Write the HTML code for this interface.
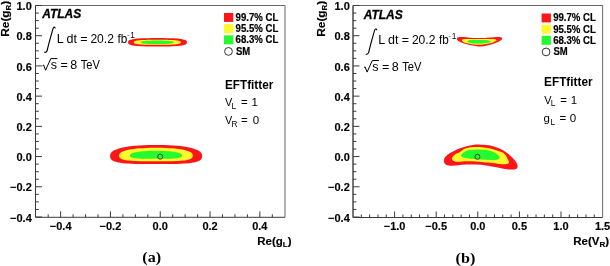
<!DOCTYPE html><html><head><meta charset="utf-8"><style>html,body{margin:0;padding:0;background:#fff;}svg{display:block;filter:blur(0.35px);}text{font-family:"Liberation Sans",sans-serif;}</style></head><body>
<svg width="610" height="266" viewBox="0 0 610 266">
<rect width="610" height="266" fill="#fff"/>
<path d="M35.5,217.3 V5.5 H285 V217.3" stroke="#666" stroke-width="1" fill="none"/>
<g stroke="#3a3a3a" stroke-width="1" fill="none">
<path d="M35.5,5.5 V217.3 H285"/>
<path d="M35.5,5.50h6.5M35.5,13.05h3.3M35.5,20.61h3.3M35.5,28.16h3.3M35.5,35.71h6.5M35.5,43.27h3.3M35.5,50.82h3.3M35.5,58.37h3.3M35.5,65.93h6.5M35.5,73.48h3.3M35.5,81.03h3.3M35.5,88.59h3.3M35.5,96.14h6.5M35.5,103.70h3.3M35.5,111.25h3.3M35.5,118.80h3.3M35.5,126.36h6.5M35.5,133.91h3.3M35.5,141.46h3.3M35.5,149.02h3.3M35.5,156.57h6.5M35.5,164.12h3.3M35.5,171.68h3.3M35.5,179.23h3.3M35.5,186.78h6.5M35.5,194.34h3.3M35.5,201.89h3.3M35.5,209.44h3.3M35.5,217.00h6.5M60.65,217.3v-6M110.45,217.3v-6M160.25,217.3v-6M210.05,217.3v-6M259.85,217.3v-6M48.20,217.3v-3M73.10,217.3v-3M85.55,217.3v-3M98.00,217.3v-3M122.90,217.3v-3M135.35,217.3v-3M147.80,217.3v-3M172.70,217.3v-3M185.15,217.3v-3M197.60,217.3v-3M222.50,217.3v-3M234.95,217.3v-3M247.40,217.3v-3M272.30,217.3v-3"/>
</g>
<g font-weight="bold" font-size="11" text-anchor="end" fill="#000" stroke="#000" stroke-width="0.15">
<text x="31.8" y="10.10">1.0</text>
<text x="31.8" y="40.31">0.8</text>
<text x="31.8" y="70.53">0.6</text>
<text x="31.8" y="100.74">0.4</text>
<text x="31.8" y="130.96">0.2</text>
<text x="31.8" y="161.17">0.0</text>
<text x="31.8" y="191.38">−0.2</text>
<text x="31.8" y="221.60">−0.4</text>
</g>
<g font-weight="bold" font-size="11" text-anchor="middle" fill="#000" stroke="#000" stroke-width="0.15">
<text x="60.65" y="229.8">−0.4</text>
<text x="110.45" y="229.8">−0.2</text>
<text x="160.25" y="229.8">0.0</text>
<text x="210.05" y="229.8">0.2</text>
<text x="259.85" y="229.8">0.4</text>
</g>
<path d="M186.90,42.30 L186.83,43.13 L186.60,43.61 L186.23,44.01 L185.71,44.35 L185.03,44.67 L184.21,44.95 L183.24,45.20 L182.11,45.43 L180.83,45.63 L179.40,45.82 L177.80,45.98 L176.02,46.12 L174.06,46.23 L171.88,46.33 L169.44,46.40 L166.65,46.46 L163.28,46.49 L157.50,46.50 L151.72,46.49 L148.35,46.46 L145.56,46.40 L143.12,46.33 L140.94,46.23 L138.98,46.12 L137.20,45.98 L135.60,45.82 L134.17,45.63 L132.89,45.43 L131.76,45.20 L130.79,44.95 L129.97,44.67 L129.29,44.35 L128.77,44.01 L128.40,43.61 L128.17,43.13 L128.10,42.30 L128.17,41.47 L128.40,40.99 L128.77,40.59 L129.29,40.25 L129.97,39.93 L130.79,39.65 L131.76,39.40 L132.89,39.17 L134.17,38.97 L135.60,38.78 L137.20,38.62 L138.98,38.48 L140.94,38.37 L143.12,38.27 L145.56,38.20 L148.35,38.14 L151.72,38.11 L157.50,38.10 L163.28,38.11 L166.65,38.14 L169.44,38.20 L171.88,38.27 L174.06,38.37 L176.02,38.48 L177.80,38.62 L179.40,38.78 L180.83,38.97 L182.11,39.17 L183.24,39.40 L184.21,39.65 L185.03,39.93 L185.71,40.25 L186.23,40.59 L186.60,40.99 L186.83,41.47Z" fill="#fe1519"/>
<path d="M180.85,42.30 L180.79,42.79 L180.61,43.08 L180.31,43.32 L179.90,43.52 L179.36,43.71 L178.70,43.87 L177.92,44.03 L177.02,44.16 L176.00,44.28 L174.85,44.39 L173.57,44.49 L172.15,44.57 L170.58,44.64 L168.84,44.70 L166.89,44.74 L164.66,44.77 L161.97,44.79 L157.35,44.80 L152.73,44.79 L150.04,44.77 L147.81,44.74 L145.86,44.70 L144.12,44.64 L142.55,44.57 L141.13,44.49 L139.85,44.39 L138.70,44.28 L137.68,44.16 L136.78,44.03 L136.00,43.87 L135.34,43.71 L134.80,43.52 L134.39,43.32 L134.09,43.08 L133.91,42.79 L133.85,42.30 L133.91,41.81 L134.09,41.52 L134.39,41.28 L134.80,41.08 L135.34,40.89 L136.00,40.73 L136.78,40.57 L137.68,40.44 L138.70,40.32 L139.85,40.21 L141.13,40.11 L142.55,40.03 L144.12,39.96 L145.86,39.90 L147.81,39.86 L150.04,39.83 L152.73,39.81 L157.35,39.80 L161.97,39.81 L164.66,39.83 L166.89,39.86 L168.84,39.90 L170.58,39.96 L172.15,40.03 L173.57,40.11 L174.85,40.21 L176.00,40.32 L177.02,40.44 L177.92,40.57 L178.70,40.73 L179.36,40.89 L179.90,41.08 L180.31,41.28 L180.61,41.52 L180.79,41.81Z" fill="#fff82a"/>
<path d="M173.50,42.30 L173.46,42.63 L173.33,42.83 L173.13,42.99 L172.84,43.13 L172.47,43.26 L172.01,43.37 L171.47,43.47 L170.85,43.57 L170.14,43.65 L169.34,43.72 L168.45,43.79 L167.47,43.84 L166.38,43.89 L165.17,43.93 L163.82,43.96 L162.27,43.98 L160.40,44.00 L157.20,44.00 L154.00,44.00 L152.13,43.98 L150.58,43.96 L149.23,43.93 L148.02,43.89 L146.93,43.84 L145.95,43.79 L145.06,43.72 L144.26,43.65 L143.55,43.57 L142.93,43.47 L142.39,43.37 L141.93,43.26 L141.56,43.13 L141.27,42.99 L141.07,42.83 L140.94,42.63 L140.90,42.30 L140.94,41.97 L141.07,41.77 L141.27,41.61 L141.56,41.47 L141.93,41.34 L142.39,41.23 L142.93,41.13 L143.55,41.03 L144.26,40.95 L145.06,40.88 L145.95,40.81 L146.93,40.76 L148.02,40.71 L149.23,40.67 L150.58,40.64 L152.13,40.62 L154.00,40.60 L157.20,40.60 L160.40,40.60 L162.27,40.62 L163.82,40.64 L165.17,40.67 L166.38,40.71 L167.47,40.76 L168.45,40.81 L169.34,40.88 L170.14,40.95 L170.85,41.03 L171.47,41.13 L172.01,41.23 L172.47,41.34 L172.84,41.47 L173.13,41.61 L173.33,41.77 L173.46,41.97Z" fill="#24fa2e"/>
<path d="M202.10,156.10 L201.97,157.65 L201.58,158.66 L200.93,159.51 L200.03,160.25 L198.87,160.90 L197.45,161.48 L195.78,161.98 L193.86,162.43 L191.68,162.81 L189.26,163.13 L186.57,163.40 L183.63,163.61 L180.40,163.78 L176.88,163.90 L173.00,163.98 L168.68,164.01 L163.65,164.02 L156.10,164.00 L148.55,164.02 L143.52,164.01 L139.20,163.98 L135.32,163.90 L131.80,163.78 L128.57,163.61 L125.63,163.40 L122.94,163.13 L120.52,162.81 L118.34,162.43 L116.42,161.98 L114.75,161.48 L113.33,160.90 L112.17,160.25 L111.27,159.51 L110.62,158.66 L110.23,157.65 L110.10,156.10 L110.23,154.53 L110.62,153.47 L111.27,152.53 L112.17,151.67 L113.33,150.86 L114.75,150.11 L116.42,149.40 L118.34,148.73 L120.52,148.11 L122.94,147.53 L125.63,147.01 L128.57,146.53 L131.80,146.11 L135.32,145.75 L139.20,145.46 L143.52,145.23 L148.55,145.07 L156.10,145.00 L163.65,145.07 L168.68,145.23 L173.00,145.46 L176.88,145.75 L180.40,146.11 L183.63,146.53 L186.57,147.01 L189.26,147.53 L191.68,148.11 L193.86,148.73 L195.78,149.40 L197.45,150.11 L198.87,150.86 L200.03,151.67 L200.93,152.53 L201.58,153.47 L201.97,154.53Z" fill="#fe1519"/>
<path d="M192.80,155.70 L192.70,156.79 L192.38,157.50 L191.87,158.10 L191.14,158.62 L190.21,159.08 L189.08,159.48 L187.74,159.83 L186.20,160.14 L184.46,160.40 L182.51,160.62 L180.36,160.81 L178.00,160.95 L175.42,161.06 L172.60,161.14 L169.49,161.19 L166.02,161.21 L162.00,161.21 L155.95,161.20 L149.90,161.21 L145.88,161.21 L142.41,161.19 L139.30,161.14 L136.48,161.06 L133.90,160.95 L131.54,160.81 L129.39,160.62 L127.44,160.40 L125.70,160.14 L124.16,159.83 L122.82,159.48 L121.69,159.08 L120.76,158.62 L120.03,158.10 L119.52,157.50 L119.20,156.79 L119.10,155.70 L119.20,154.59 L119.52,153.84 L120.03,153.18 L120.76,152.57 L121.69,152.00 L122.82,151.46 L124.16,150.95 L125.70,150.48 L127.44,150.04 L129.39,149.62 L131.54,149.25 L133.90,148.91 L136.48,148.61 L139.30,148.35 L142.41,148.13 L145.88,147.97 L149.90,147.85 L155.95,147.80 L162.00,147.85 L166.02,147.97 L169.49,148.13 L172.60,148.35 L175.42,148.61 L178.00,148.91 L180.36,149.25 L182.51,149.62 L184.46,150.04 L186.20,150.48 L187.74,150.95 L189.08,151.46 L190.21,152.00 L191.14,152.57 L191.87,153.18 L192.38,153.84 L192.70,154.59Z" fill="#fff82a"/>
<path d="M182.00,155.60 L181.93,156.25 L181.71,156.68 L181.34,157.03 L180.83,157.34 L180.17,157.60 L179.37,157.84 L178.43,158.05 L177.34,158.22 L176.11,158.37 L174.74,158.50 L173.22,158.60 L171.56,158.68 L169.74,158.74 L167.74,158.78 L165.55,158.81 L163.11,158.81 L160.27,158.81 L156.00,158.80 L151.73,158.81 L148.89,158.81 L146.45,158.81 L144.26,158.78 L142.26,158.74 L140.44,158.68 L138.78,158.60 L137.26,158.50 L135.89,158.37 L134.66,158.22 L133.57,158.05 L132.63,157.84 L131.83,157.60 L131.17,157.34 L130.66,157.03 L130.29,156.68 L130.07,156.25 L130.00,155.60 L130.07,154.94 L130.29,154.49 L130.66,154.09 L131.17,153.72 L131.83,153.38 L132.63,153.05 L133.57,152.75 L134.66,152.46 L135.89,152.18 L137.26,151.93 L138.78,151.70 L140.44,151.49 L142.26,151.30 L144.26,151.14 L146.45,151.01 L148.89,150.90 L151.73,150.83 L156.00,150.80 L160.27,150.83 L163.11,150.90 L165.55,151.01 L167.74,151.14 L169.74,151.30 L171.56,151.49 L173.22,151.70 L174.74,151.93 L176.11,152.18 L177.34,152.46 L178.43,152.75 L179.37,153.05 L180.17,153.38 L180.83,153.72 L181.34,154.09 L181.71,154.49 L181.93,154.94Z" fill="#24fa2e"/>
<circle cx="160.2" cy="156.7" r="2.5" fill="none" stroke="#333" stroke-width="0.9"/>
<text x="56.87" y="43.00" font-size="12.5" fill="#000">L</text>
<text x="66.48" y="43.00" font-size="12.5" fill="#000">dt</text>
<text x="80.29" y="43.00" font-size="12.5" fill="#000">=</text>
<text transform="translate(90.39,43.00) scale(0.967,1)" font-size="12.5" fill="#000">20.2</text>
<text transform="translate(117.53,43.00) scale(0.94,1)" font-size="12.5" fill="#000">fb</text>
<text transform="translate(127.32,37.50) scale(0.45,1)" font-size="8.3" fill="#555">−</text>
<text x="130.17" y="37.50" font-size="8.3" fill="#000">1</text>
<path d="M55.2,28.4 C55.3,27.2 54.3,26.6 53.5,27.6 C52.8,28.6 48.2,46.0 47.3,50.0 C46.9,51.7 45.6,52.8 44.3,52.1" fill="none" stroke="#000" stroke-width="1.15"/>
<path d="M42.6,65.6 L43.6,65.0 L45.6,70.2 L50.8,58.6 L57.4,58.6" fill="none" stroke="#000" stroke-width="1"/>
<text x="50.85" y="69.20" font-size="12.5" fill="#000">s</text>
<text x="60.39" y="69.20" font-size="12.5" fill="#000">=</text>
<text x="70.36" y="69.20" font-size="12.5" fill="#000">8</text>
<text transform="translate(80.75,69.20) scale(0.89,1)" font-size="12.5" fill="#000">TeV</text>
<text x="42.15" y="17.50" font-size="12" font-weight="bold" font-style="italic" fill="#000" stroke="#000" stroke-width="0.3">ATLAS</text>
<text transform="translate(224.91,88.80) scale(0.966,1)" font-size="12.2" font-weight="bold" fill="#000">EFTfitter</text>
<text transform="translate(224.95,106.20) scale(0.95,1)" font-size="11.5" fill="#000">V</text>
<text x="231.62" y="108.50" font-size="8.3" fill="#000">L</text>
<text x="241.04" y="106.20" font-size="11.5" fill="#000">=</text>
<text x="251.62" y="106.20" font-size="11.5" fill="#000">1</text>
<text transform="translate(224.95,124.40) scale(0.95,1)" font-size="11.5" fill="#000">V</text>
<text x="231.52" y="126.60" font-size="8.3" fill="#000">R</text>
<text x="241.04" y="124.40" font-size="11.5" fill="#000">=</text>
<text x="252.65" y="124.40" font-size="11.5" fill="#000">0</text>
<rect x="224" y="13.00" width="9.3" height="8.9" fill="#fe1519"/>
<text transform="translate(235.57,20.70) scale(0.962,1)" font-size="10" font-weight="bold" fill="#000" stroke="#000" stroke-width="0.2">99.7% CL</text>
<rect x="224" y="24.20" width="9.3" height="8.9" fill="#fff82a"/>
<text transform="translate(235.57,32.00) scale(0.962,1)" font-size="10" font-weight="bold" fill="#000" stroke="#000" stroke-width="0.2">95.5% CL</text>
<rect x="224" y="35.40" width="9.3" height="8.9" fill="#24fa2e"/>
<text transform="translate(235.55,43.30) scale(0.962,1)" font-size="10" font-weight="bold" fill="#000" stroke="#000" stroke-width="0.2">68.3% CL</text>
<circle cx="228.5" cy="51.4" r="3.9" fill="none" stroke="#333" stroke-width="1"/>
<text transform="translate(235.93,54.60) scale(0.95,1)" font-size="10" font-weight="bold" fill="#000" stroke="#000" stroke-width="0.2">SM</text>
<path d="M353,217.5 V5.5 H602.6 V217.5" stroke="#666" stroke-width="1" fill="none"/>
<g stroke="#3a3a3a" stroke-width="1" fill="none">
<path d="M353,5.5 V217.5 H602.6"/>
<path d="M353,5.50h6.5M353,13.05h3.3M353,20.61h3.3M353,28.16h3.3M353,35.71h6.5M353,43.27h3.3M353,50.82h3.3M353,58.37h3.3M353,65.93h6.5M353,73.48h3.3M353,81.03h3.3M353,88.59h3.3M353,96.14h6.5M353,103.70h3.3M353,111.25h3.3M353,118.80h3.3M353,126.36h6.5M353,133.91h3.3M353,141.46h3.3M353,149.02h3.3M353,156.57h6.5M353,164.12h3.3M353,171.68h3.3M353,179.23h3.3M353,186.78h6.5M353,194.34h3.3M353,201.89h3.3M353,209.44h3.3M353,217.00h6.5M394.60,217.5v-6M436.20,217.5v-6M477.80,217.5v-6M519.40,217.5v-6M561.00,217.5v-6M361.32,217.5v-3M369.64,217.5v-3M377.96,217.5v-3M386.28,217.5v-3M402.92,217.5v-3M411.24,217.5v-3M419.56,217.5v-3M427.88,217.5v-3M444.52,217.5v-3M452.84,217.5v-3M461.16,217.5v-3M469.48,217.5v-3M486.12,217.5v-3M494.44,217.5v-3M502.76,217.5v-3M511.08,217.5v-3M527.72,217.5v-3M536.04,217.5v-3M544.36,217.5v-3M552.68,217.5v-3M569.32,217.5v-3M577.64,217.5v-3M585.96,217.5v-3M594.28,217.5v-3"/>
</g>
<g font-weight="bold" font-size="11" text-anchor="end" fill="#000" stroke="#000" stroke-width="0.15">
<text x="349.8" y="10.10">1.0</text>
<text x="349.8" y="40.31">0.8</text>
<text x="349.8" y="70.53">0.6</text>
<text x="349.8" y="100.74">0.4</text>
<text x="349.8" y="130.96">0.2</text>
<text x="349.8" y="161.17">0.0</text>
<text x="349.8" y="191.38">−0.2</text>
<text x="349.8" y="221.60">−0.4</text>
</g>
<g font-weight="bold" font-size="11" text-anchor="middle" fill="#000" stroke="#000" stroke-width="0.15">
<text x="394.60" y="229.8">−1.0</text>
<text x="436.20" y="229.8">−0.5</text>
<text x="477.80" y="229.8">0.0</text>
<text x="519.40" y="229.8">0.5</text>
<text x="561.00" y="229.8">1.0</text>
<text x="602.60" y="229.8">1.5</text>
</g>
<path d="M457.00,39.00 C457.00,38.42 457.17,37.63 458.00,37.30 C458.83,36.97 460.67,37.00 462.00,37.00 C463.33,37.00 464.67,37.18 466.00,37.30 C467.33,37.42 468.67,37.60 470.00,37.70 C471.33,37.80 472.33,37.87 474.00,37.90 C475.67,37.93 478.00,37.90 480.00,37.90 C482.00,37.90 484.33,37.95 486.00,37.90 C487.67,37.85 488.67,37.72 490.00,37.60 C491.33,37.48 492.67,37.32 494.00,37.20 C495.33,37.08 496.83,36.90 498.00,36.90 C499.17,36.90 500.32,36.93 501.00,37.20 C501.68,37.47 502.10,37.98 502.10,38.50 C502.10,39.02 501.68,39.73 501.00,40.30 C500.32,40.87 499.17,41.37 498.00,41.90 C496.83,42.43 495.33,43.02 494.00,43.50 C492.67,43.98 491.33,44.42 490.00,44.80 C488.67,45.18 487.67,45.52 486.00,45.80 C484.33,46.08 482.00,46.50 480.00,46.50 C478.00,46.50 475.67,46.05 474.00,45.80 C472.33,45.55 471.33,45.30 470.00,45.00 C468.67,44.70 467.33,44.38 466.00,44.00 C464.67,43.62 463.33,43.23 462.00,42.70 C460.67,42.17 458.83,41.42 458.00,40.80 C457.17,40.18 457.00,39.58 457.00,39.00Z" fill="#fe1519"/>
<path d="M461.80,40.30 C461.80,39.73 462.63,39.22 464.00,39.00 C465.37,38.78 467.33,38.98 470.00,39.00 C472.67,39.02 476.67,39.10 480.00,39.10 C483.33,39.10 487.67,39.02 490.00,39.00 C492.33,38.98 492.87,38.78 494.00,39.00 C495.13,39.22 496.80,39.82 496.80,40.30 C496.80,40.78 495.13,41.42 494.00,41.90 C492.87,42.38 491.33,42.85 490.00,43.20 C488.67,43.55 487.67,43.73 486.00,44.00 C484.33,44.27 482.00,44.72 480.00,44.80 C478.00,44.88 476.00,44.72 474.00,44.50 C472.00,44.28 469.67,43.85 468.00,43.50 C466.33,43.15 465.03,42.93 464.00,42.40 C462.97,41.87 461.80,40.87 461.80,40.30Z" fill="#fff82a"/>
<path d="M467.40,41.40 C467.40,40.95 468.90,40.27 470.00,40.00 C471.10,39.73 472.33,39.80 474.00,39.80 C475.67,39.80 478.00,39.97 480.00,40.00 C482.00,40.03 484.20,39.77 486.00,40.00 C487.80,40.23 490.30,41.00 490.80,41.40 C491.30,41.80 489.80,42.15 489.00,42.40 C488.20,42.65 487.50,42.70 486.00,42.90 C484.50,43.10 482.00,43.50 480.00,43.60 C478.00,43.70 475.67,43.65 474.00,43.50 C472.33,43.35 471.10,43.05 470.00,42.70 C468.90,42.35 467.40,41.85 467.40,41.40Z" fill="#24fa2e"/>
<path d="M444.00,161.50 C443.87,160.28 444.00,158.72 445.00,157.30 C446.00,155.88 448.33,154.15 450.00,153.00 C451.67,151.85 453.33,151.18 455.00,150.40 C456.67,149.62 458.33,148.92 460.00,148.30 C461.67,147.68 463.33,147.15 465.00,146.70 C466.67,146.25 468.17,145.95 470.00,145.60 C471.83,145.25 473.33,144.68 476.00,144.60 C478.67,144.52 483.33,144.87 486.00,145.10 C488.67,145.33 489.67,145.38 492.00,146.00 C494.33,146.62 497.83,147.87 500.00,148.80 C502.17,149.73 503.33,150.48 505.00,151.60 C506.67,152.72 508.33,154.00 510.00,155.50 C511.67,157.00 513.77,159.00 515.00,160.60 C516.23,162.20 517.07,163.82 517.40,165.10 C517.73,166.38 517.73,167.55 517.00,168.30 C516.27,169.05 515.00,169.48 513.00,169.60 C511.00,169.72 507.17,169.28 505.00,169.00 C502.83,168.72 501.67,168.23 500.00,167.90 C498.33,167.57 497.33,167.42 495.00,167.00 C492.67,166.58 489.17,165.80 486.00,165.40 C482.83,165.00 479.33,164.75 476.00,164.60 C472.67,164.45 469.00,164.38 466.00,164.50 C463.00,164.62 460.67,165.10 458.00,165.30 C455.33,165.50 452.03,165.82 450.00,165.70 C447.97,165.58 446.80,165.30 445.80,164.60 C444.80,163.90 444.13,162.72 444.00,161.50Z" fill="#fe1519"/>
<path d="M451.80,158.80 C451.80,157.63 453.63,155.73 455.00,154.60 C456.37,153.47 458.17,153.07 460.00,152.00 C461.83,150.93 463.33,149.03 466.00,148.20 C468.67,147.37 472.67,147.08 476.00,147.00 C479.33,146.92 483.33,147.37 486.00,147.70 C488.67,148.03 489.67,148.35 492.00,149.00 C494.33,149.65 497.83,150.70 500.00,151.60 C502.17,152.50 503.52,152.72 505.00,154.40 C506.48,156.08 508.57,160.10 508.90,161.70 C509.23,163.30 508.48,163.62 507.00,164.00 C505.52,164.38 502.00,164.13 500.00,164.00 C498.00,163.87 497.33,163.45 495.00,163.20 C492.67,162.95 489.17,162.80 486.00,162.50 C482.83,162.20 479.33,161.60 476.00,161.40 C472.67,161.20 468.67,161.25 466.00,161.30 C463.33,161.35 461.83,161.65 460.00,161.70 C458.17,161.75 456.37,162.08 455.00,161.60 C453.63,161.12 451.80,159.97 451.80,158.80Z" fill="#fff82a"/>
<path d="M461.00,155.70 C461.00,154.52 463.50,152.02 466.00,151.00 C468.50,149.98 472.67,149.75 476.00,149.60 C479.33,149.45 482.83,149.58 486.00,150.10 C489.17,150.62 492.68,151.42 495.00,152.70 C497.32,153.98 499.90,156.58 499.90,157.80 C499.90,159.02 497.32,159.68 495.00,160.00 C492.68,160.32 489.17,159.83 486.00,159.70 C482.83,159.57 479.33,159.47 476.00,159.20 C472.67,158.93 468.50,158.68 466.00,158.10 C463.50,157.52 461.00,156.88 461.00,155.70Z" fill="#24fa2e"/>
<circle cx="477.4" cy="156.8" r="2.5" fill="none" stroke="#333" stroke-width="0.9"/>
<text x="378.37" y="44.40" font-size="12.5" fill="#000">L</text>
<text x="387.98" y="44.40" font-size="12.5" fill="#000">dt</text>
<text x="401.79" y="44.40" font-size="12.5" fill="#000">=</text>
<text transform="translate(411.89,44.40) scale(0.967,1)" font-size="12.5" fill="#000">20.2</text>
<text transform="translate(439.03,44.40) scale(0.94,1)" font-size="12.5" fill="#000">fb</text>
<text transform="translate(448.82,38.90) scale(0.45,1)" font-size="8.3" fill="#555">−</text>
<text x="451.67" y="38.90" font-size="8.3" fill="#000">1</text>
<path d="M376.7,30.299999999999997 C376.8,29.099999999999998 375.8,28.5 375.0,29.5 C374.3,30.5 369.7,47.9 368.8,51.9 C368.4,53.6 367.1,54.699999999999996 365.8,54.0" fill="none" stroke="#000" stroke-width="1.15"/>
<path d="M364.1,67.5 L365.1,66.9 L367.1,72.10000000000001 L372.3,60.5 L378.9,60.5" fill="none" stroke="#000" stroke-width="1"/>
<text x="372.35" y="70.60" font-size="12.5" fill="#000">s</text>
<text x="381.89" y="70.60" font-size="12.5" fill="#000">=</text>
<text x="391.86" y="70.60" font-size="12.5" fill="#000">8</text>
<text transform="translate(402.25,70.60) scale(0.89,1)" font-size="12.5" fill="#000">TeV</text>
<text x="363.65" y="18.90" font-size="12" font-weight="bold" font-style="italic" fill="#000" stroke="#000" stroke-width="0.3">ATLAS</text>
<text transform="translate(544.11,86.40) scale(0.966,1)" font-size="12.2" font-weight="bold" fill="#000">EFTfitter</text>
<text transform="translate(544.15,103.80) scale(0.95,1)" font-size="11.5" fill="#000">V</text>
<text x="550.82" y="106.10" font-size="8.3" fill="#000">L</text>
<text x="560.24" y="103.80" font-size="11.5" fill="#000">=</text>
<text x="570.82" y="103.80" font-size="11.5" fill="#000">1</text>
<text x="543.62" y="122.00" font-size="11.5" fill="#000">g</text>
<text x="550.52" y="124.60" font-size="8.3" fill="#000">L</text>
<text x="559.54" y="122.00" font-size="11.5" fill="#000">=</text>
<text x="569.85" y="122.00" font-size="11.5" fill="#000">0</text>
<rect x="541.6" y="13.50" width="9.3" height="8.9" fill="#fe1519"/>
<text transform="translate(553.17,21.20) scale(0.962,1)" font-size="10" font-weight="bold" fill="#000" stroke="#000" stroke-width="0.2">99.7% CL</text>
<rect x="541.6" y="24.70" width="9.3" height="8.9" fill="#fff82a"/>
<text transform="translate(553.17,32.50) scale(0.962,1)" font-size="10" font-weight="bold" fill="#000" stroke="#000" stroke-width="0.2">95.5% CL</text>
<rect x="541.6" y="35.90" width="9.3" height="8.9" fill="#24fa2e"/>
<text transform="translate(553.15,43.80) scale(0.962,1)" font-size="10" font-weight="bold" fill="#000" stroke="#000" stroke-width="0.2">68.3% CL</text>
<circle cx="546.1" cy="51.9" r="3.9" fill="none" stroke="#333" stroke-width="1"/>
<text transform="translate(553.53,55.10) scale(0.95,1)" font-size="10" font-weight="bold" fill="#000" stroke="#000" stroke-width="0.2">SM</text>
<text x="257.3" y="244.8" font-weight="bold" font-size="11.5" stroke="#000" stroke-width="0.15">Re(g<tspan font-size="8" dy="2">L</tspan><tspan dy="-2">)</tspan></text>
<text x="573.2" y="244.8" font-weight="bold" font-size="11.5" stroke="#000" stroke-width="0.15">Re(V<tspan font-size="8" dy="2">R</tspan><tspan dy="-2">)</tspan></text>
<text transform="translate(8.6,36.7) rotate(-90)" font-weight="bold" font-size="11.8" stroke="#000" stroke-width="0.15">Re(g<tspan font-size="8" dy="2">R</tspan><tspan dy="-2">)</tspan></text>
<text transform="translate(325,36.7) rotate(-90)" font-weight="bold" font-size="11.8" stroke="#000" stroke-width="0.15">Re(g<tspan font-size="8" dy="2">R</tspan><tspan dy="-2">)</tspan></text>
<text transform="translate(142.3,262.1) scale(1.04,1)" font-weight="bold" font-size="15.5" style="font-family:'Liberation Serif',serif">(a)</text>
<text transform="translate(455.6,262.5) scale(1.04,1)" font-weight="bold" font-size="15.5" style="font-family:'Liberation Serif',serif">(b)</text>
</svg></body></html>
